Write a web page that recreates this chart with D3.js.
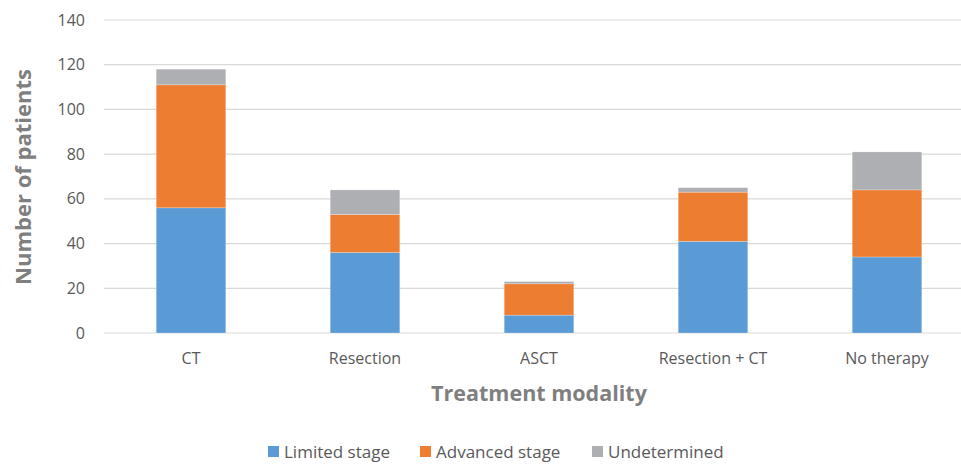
<!DOCTYPE html>
<html><head><meta charset="utf-8">
<script src="https://cdn.jsdelivr.net/npm/d3@7"></script>
<style>body{margin:0;background:#fff}svg{display:block}</style>
</head><body>
<svg id="c" width="961" height="464"></svg>
<script>
const categories = ["CT", "Resection", "ASCT", "Resection + CT", "No therapy"];
const limited = [56, 36, 8, 41, 34];
const advanced = [55, 17, 14, 22, 30];
const undetermined = [7, 11, 1, 2, 17];
const seriesNames = ["Limited stage", "Advanced stage", "Undetermined"];
const colors = ["#5B9BD5", "#ED7D31", "#AEAFB2"];
const yTicks = [0, 20, 40, 60, 80, 100, 120, 140];

const svg = d3.select("#c");
const font = "'Open Sans', 'Noto Sans', sans-serif";
const rows = categories.map((c, i) => ({cat: c, s0: limited[i], s1: advanced[i], s2: undetermined[i]}));
const stack = d3.stack().keys(["s0", "s1", "s2"])(rows);

const x = d3.scaleBand().domain(categories).range([104, 974]).paddingInner(0.6).paddingOuter(0.3);
const y = d3.scaleLinear().domain([0, 140]).range([333, 20]);

// gridlines
svg.append("g").selectAll("line").data(yTicks).join("line")
  .attr("x1", 104).attr("x2", 961)
  .attr("y1", d => y(d)).attr("y2", d => y(d))
  .attr("stroke", "#D9D9D9").attr("stroke-width", 1.2);

// y tick labels
svg.append("g").selectAll("text").data(yTicks).join("text")
  .attr("x", 85).attr("y", d => y(d)).attr("dy", "0.35em")
  .attr("text-anchor", "end").attr("font-family", font).attr("font-size", 16)
  .attr("fill", "#595959").text(d => d);

// bars
svg.append("g").selectAll("g").data(stack).join("g")
  .attr("fill", (d, i) => colors[i])
  .selectAll("rect").data(d => d).join("rect")
  .attr("x", d => x(d.data.cat)).attr("width", x.bandwidth())
  .attr("y", d => y(d[1])).attr("height", d => y(d[0]) - y(d[1]))
  .attr("stroke", "#fff").attr("stroke-opacity", 0.4).attr("stroke-width", 0.6);

// x labels
svg.append("g").selectAll("text").data(categories).join("text")
  .attr("x", d => x(d) + x.bandwidth() / 2).attr("y", 364)
  .attr("text-anchor", "middle").attr("font-family", font).attr("font-size", 16)
  .attr("fill", "#595959").text(d => d);

// axis titles
svg.append("text").attr("x", 539).attr("y", 401).attr("text-anchor", "middle")
  .attr("font-family", font).attr("font-size", 21.5).attr("font-weight", "bold")
  .attr("fill", "#7F7F7F").text("Treatment modality");
svg.append("text").attr("transform", "translate(31,177) rotate(-90)").attr("text-anchor", "middle")
  .attr("font-family", font).attr("font-size", 22).attr("font-weight", "bold")
  .attr("fill", "#7F7F7F").text("Number of patients");

// legend
const legX = [268, 420, 592];
const leg = svg.append("g").selectAll("g").data(seriesNames).join("g")
  .attr("transform", (d, i) => `translate(${legX[i]},0)`);
leg.append("rect").attr("x", 0).attr("y", 446).attr("width", 11).attr("height", 11)
  .attr("fill", (d, i) => colors[i]);
leg.append("text").attr("x", 16).attr("y", 458).attr("font-family", font).attr("font-size", 17)
  .attr("fill", "#595959").text(d => d);
</script>
</body></html>
